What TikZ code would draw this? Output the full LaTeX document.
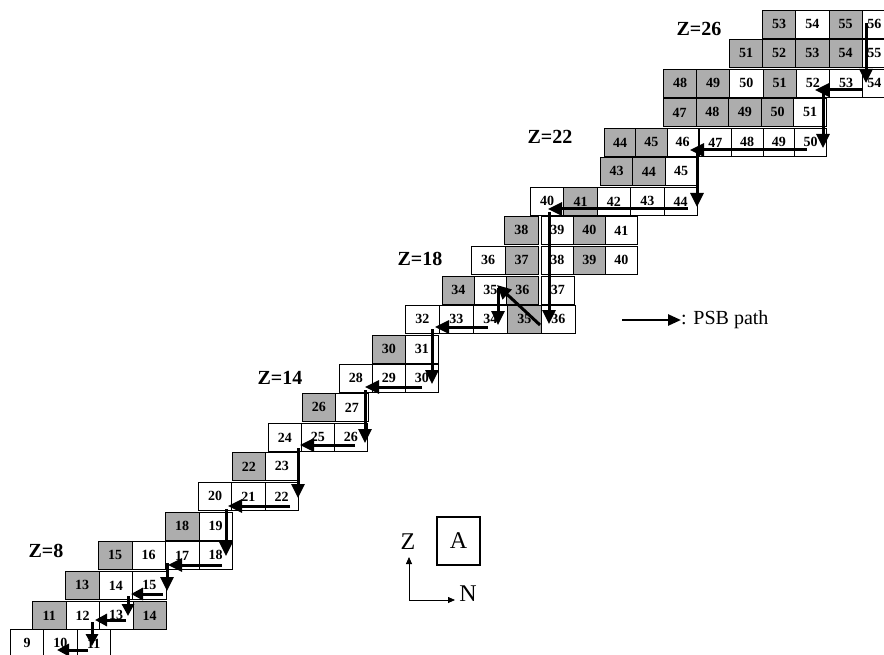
\documentclass[tikz,border=0pt]{standalone}
\usepackage{fontspec}
\setmainfont{Liberation Serif}
\usetikzlibrary{arrows.meta,calc}
\definecolor{shadecell}{gray}{0.68}
\tikzset{
  cell/.style={draw, line width=0.8pt, minimum height=28pt, inner sep=0pt, anchor=north west,
    font=\fontsize{14}{15}\selectfont\bfseries},
  psb/.style={line width=3pt, -{Triangle[length=14pt,width=13pt]}},
  psbsmall/.style={line width=3pt, -{Triangle[length=12pt,width=12pt]}},
  zlab/.style={font=\fontsize{20}{21}\selectfont\bfseries, inner sep=0pt},
  axis/.style={line width=0.8pt, -{Triangle[length=7pt,width=6pt]}},
  biglab/.style={font=\fontsize{24}{26}\selectfont, inner sep=0pt},
}
\newcommand\mkrow[5]{%
  \foreach \lab/\fc [count=\i from 0] in {#5} {
    \node[cell, minimum width=#4pt, fill=\fc] (#1-\i) at ({#2+\i*#4}, #3) {\lab};
  }}
\begin{document}
\begin{tikzpicture}[x=1pt,y=-1pt]
\useasboundingbox (0,0) rectangle (884,655);
% rows of cells
\mkrow{ra}{10}{629}{33.3}{9/white,10/white,11/white}
\mkrow{rb}{32}{601}{33.5}{11/shadecell,12/white,13/white,14/shadecell}
\mkrow{rc}{65}{571}{33.6}{13/shadecell,14/white,15/white}
\mkrow{rd}{98}{541}{33.5}{15/shadecell,16/white,17/white,18/white}
\mkrow{re}{165}{512}{33.5}{18/shadecell,19/white}
\mkrow{rf}{198}{482}{33.3}{20/white,21/white,22/white}
\mkrow{rg}{232}{452}{33}{22/shadecell,23/white}
\mkrow{rh}{268}{423}{33}{24/white,25/white,26/white}
\mkrow{ri}{302}{393}{33}{26/shadecell,27/white}
\mkrow{rj}{339}{364}{33}{28/white,29/white,30/white}
\mkrow{rk}{372}{335}{33}{30/shadecell,31/white}
\mkrow{rl}{405}{305}{34}{32/white,33/white,34/white,35/shadecell,36/white}
\mkrow{rm}{442}{276}{32}{34/shadecell,35/white,36/shadecell}
\mkrow{rn}{541}{276}{33}{37/white}
\mkrow{ro}{471}{246}{33.5}{36/white,37/shadecell}
\mkrow{rp}{541}{246}{32}{38/white,39/shadecell,40/white}
\mkrow{rq}{504}{216}{34}{38/shadecell}
\mkrow{rr}{541}{216}{32}{39/white,40/shadecell,41/white}
\mkrow{rs}{530}{187}{33.4}{40/white,41/shadecell,42/white,43/white,44/white}
\mkrow{rt}{600}{157}{32.3}{43/shadecell,44/shadecell,45/white}
\mkrow{ru}{604}{128}{31.3}{44/shadecell,45/shadecell,46/white}
\mkrow{rv}{699}{128}{31.75}{47/white,48/white,49/white,50/white}
\mkrow{rw}{663}{98}{32.6}{47/shadecell,48/shadecell,49/shadecell,50/shadecell,51/white}
\mkrow{rx}{663}{69}{33.2}{48/shadecell,49/shadecell,50/white,51/shadecell,52/white,53/white}
\mkrow{rxe}{862}{69}{24}{54/white}
\mkrow{ry}{729}{39}{33.2}{51/shadecell,52/shadecell,53/shadecell,54/shadecell}
\mkrow{rye}{862}{39}{24}{55/white}
\mkrow{rz}{762}{10}{33.3}{53/shadecell,54/white,55/shadecell}
\mkrow{rze}{862}{10}{24}{56/white}
% Z labels
\node[zlab] (z26) at (699,29) {Z=26};
\node[zlab] (z22) at (550,137) {Z=22};
\node[zlab] (z18) at (420,259) {Z=18};
\node[zlab] (z14) at (280,378) {Z=14};
\node[zlab] (z8) at (46,551) {Z=8};
% PSB path
\foreach \sx/\sy/\ex/\ey [count=\k] in {866/23/866/83, 862/90/815/90, 823/93/823/148,
  807/150/690/150, 697/153/697/207, 688/209/548/209, 549/212/549/324, 540/325/497/285,
  498/288/498/325, 488/327/435/327, 432/329/432/384, 422/387/365/387, 365/390/365/443,
  355/445/300/445, 298/448/298/498, 290/506/228/506, 226/509/226/556, 222/565/168/565,
  167/563/167/591} {
  \coordinate (s\k) at (\sx,\sy);
  \coordinate (e\k) at (\ex,\ey);
  \draw[psb] (s\k) -- (e\k);
}
\foreach \sx/\sy/\ex/\ey [count=\k] in {163/594/131/594, 128/596/128/616, 126/620/95/620,
  92/622/92/646, 88/650/57/650} {
  \coordinate (t\k) at (\sx,\sy);
  \coordinate (u\k) at (\ex,\ey);
  \draw[psbsmall] (t\k) -- (u\k);
}
% legend
\coordinate (lg1) at (622,320);
\coordinate (lg2) at (681,320);
\draw[line width=2.5pt, -{Triangle[length=13pt,width=11pt]}] (lg1) -- (lg2);
\node[anchor=west, inner sep=0pt, font=\fontsize{20}{22}\selectfont] (lgt) at (681,320) {: PSB path};
% compass
\node[biglab] (zz) at (408,542) {Z};
\node[draw, line width=1.6pt, minimum width=43pt, minimum height=48pt, inner sep=0pt,
  font=\fontsize{24}{26}\selectfont] (boxa) at (458.5,541) {A};
\node[biglab] (nn) at (468,594) {N};
\coordinate (org) at (409,600);
\coordinate (ztip) at (409,557);
\coordinate (ntip) at (455,600);
\draw[axis] (org) -- (ztip);
\draw[axis] (org) -- (ntip);
\end{tikzpicture}
\end{document}
